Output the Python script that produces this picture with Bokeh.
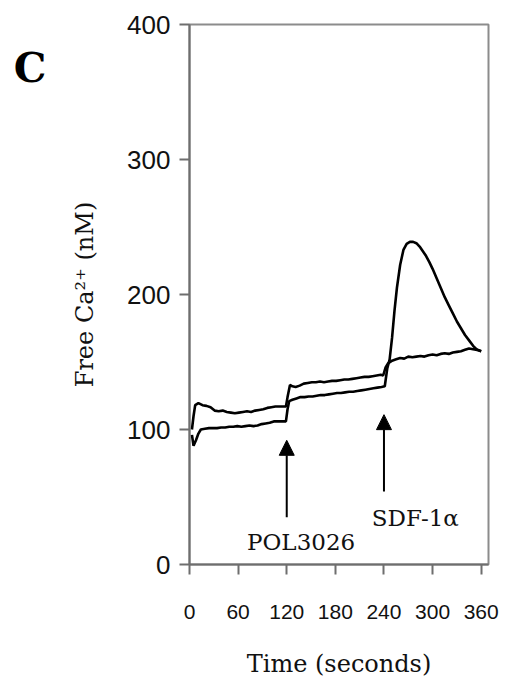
from bokeh.plotting import figure
from bokeh.models import (Range1d, FixedTicker, Arrow, NormalHead, ColumnDataSource,
                          LinearAxis)
from bokeh.embed import file_html
from bokeh.resources import INLINE
from bokeh.core.properties import value

# ---- data ----
x_ticks = [0, 60, 120, 180, 240, 300, 360]
y_ticks = [0, 100, 200, 300, 400]

time_a = [3, 5, 7, 11, 16, 21, 26, 31, 36, 41, 46, 51, 56, 61, 66, 71, 76, 81, 86, 91,
          96, 101, 106, 111, 116, 119, 121, 124, 127, 131, 136, 141, 146, 151, 156, 161,
          166, 171, 176, 181, 186, 191, 196, 201, 206, 211, 216, 221, 226, 231, 236, 239,
          242, 245, 250, 255, 260, 265, 270, 275, 280, 285, 290, 295, 300, 305, 310, 315,
          320, 325, 330, 335, 340, 345, 350, 355, 360]
ca_a = [100, 110, 118, 119.5, 118, 117.5, 116.5, 114, 113.5, 114,
        113, 112.5, 112, 112.5, 113, 113.5, 113, 114, 114.5, 115,
        116, 116.5, 117, 117, 117, 117, 124, 133, 132, 131.5,
        132.5, 134, 134.5, 135, 135, 135.5, 135, 135.5, 136, 136,
        136.5, 137, 137, 137.5, 138, 138.5, 139, 139, 139.5, 140,
        140.5, 140, 146, 149, 151, 152, 153, 152.5, 154, 153.5,
        154, 154.5, 154, 155, 155.5, 155, 156, 156.5, 156, 157,
        157.5, 158, 159, 160, 159.5, 159, 158]

time_b = [3, 5, 8, 11, 14, 19, 24, 29, 34, 39, 44, 49, 54, 59, 64, 69, 74, 79, 84, 89,
          94, 99, 104, 109, 114, 119, 121, 123, 127, 132, 137, 142, 147, 152, 157, 162,
          167, 172, 177, 182, 187, 192, 197, 202, 207, 212, 217, 222, 227, 232, 237, 241,
          244, 247, 250, 253, 256, 260, 264, 268, 272, 276, 280, 284, 288, 292, 296, 300,
          305, 310, 315, 320, 325, 330, 335, 340, 345, 350, 355, 360]
ca_b = [96, 88, 92, 97, 100, 100.5, 101, 101, 101, 101.5,
        101.5, 102, 102, 102.5, 102, 102.5, 103, 102.5, 103, 104,
        104.5, 105, 106, 106, 106, 106, 115, 121, 122, 123,
        124, 124, 124.5, 124.5, 125, 125.5, 125.5, 126, 126.5, 127,
        127, 127.5, 128, 128, 128.5, 129, 129.5, 130, 130.5, 131,
        131.5, 132, 145, 152, 168, 188, 205, 222, 233, 237.5,
        239, 239, 238, 235.5, 232, 228.5, 224, 219, 212, 205,
        198, 192, 186, 180, 175, 170, 166, 162, 159, 158]

event_names = ["POL3026", "SDF-1\u03b1"]
event_times = [120, 240]
panel_letter = "C"

# ---- figure ----
p = figure(width=500, height=680, output_backend="svg", toolbar_location=None,
           x_range=Range1d(0, 369), y_range=Range1d(0, 400),
           min_border_left=189, min_border_right=12, min_border_top=24,
           min_border_bottom=115)
p.grid.visible = False
p.background_fill_color = "white"
p.border_fill_color = "white"
p.outline_line_color = "#8c8c8c"
p.outline_line_width = 2

for ax in (p.xaxis[0], p.yaxis[0]):
    ax.axis_line_color = "#6e6e6e"
    ax.axis_line_width = 2
    ax.major_tick_line_color = "#6e6e6e"
    ax.major_tick_line_width = 2
    ax.major_tick_out = 10
    ax.major_tick_in = 0
    ax.minor_tick_out = 0
    ax.minor_tick_in = 0
    ax.major_label_text_font = "Liberation Sans"
    ax.major_label_text_color = "#111111"
    ax.axis_label_text_font = "DejaVu Serif"
    ax.axis_label_text_font_style = "normal"
    ax.axis_label_text_color = "#111111"
    ax.axis_label_text_font_size = "24px"

p.xaxis.ticker = FixedTicker(ticks=x_ticks)
p.yaxis.ticker = FixedTicker(ticks=y_ticks)
p.xaxis.major_label_text_font_size = "21px"
p.yaxis.major_label_text_font_size = "26px"
p.xaxis.major_label_standoff = 30
p.yaxis.major_label_standoff = 9
p.xaxis.axis_label = "Time (seconds)"
p.yaxis.axis_label = "Free Ca\u00b2\u207a (nM)"
p.xaxis.axis_label_standoff = 28
p.yaxis.axis_label_standoff = 25

# panel letter, drawn as the single label of an extra left axis
letter_axis = LinearAxis(ticker=FixedTicker(ticks=[368]),
                         major_label_overrides={368: panel_letter},
                         axis_line_color=None, major_tick_line_color=None,
                         minor_tick_line_color=None,
                         major_label_text_font="DejaVu Serif",
                         major_label_text_font_style="bold",
                         major_label_text_font_size="41px",
                         major_label_text_color="black",
                         major_label_standoff=16)
p.add_layout(letter_axis, "left")

# ---- traces ----
p.line(time_a, ca_a, line_color="black", line_width=2.6)
p.line(time_b, ca_b, line_color="black", line_width=2.6)

# ---- arrows and labels ----
arrow_tail = [35, 54]
arrow_tip = [92, 111]
for t, y0, y1 in zip(event_times, arrow_tail, arrow_tip):
    p.add_layout(Arrow(x_start=t, y_start=y0, x_end=t, y_end=y1, line_width=2,
                       line_color="black",
                       end=NormalHead(size=15, fill_color="black", line_color="black")))

lab_src = ColumnDataSource(dict(x=[71, 225], y=[16.3, 34.8], text=event_names))
p.text(x="x", y="y", text="text", source=lab_src, text_font=value("DejaVu Serif"),
       text_font_size="23px", text_align="left", text_baseline="alphabetic",
       text_color="#111111")

open("out.html", "w").write(file_html(p, INLINE))
